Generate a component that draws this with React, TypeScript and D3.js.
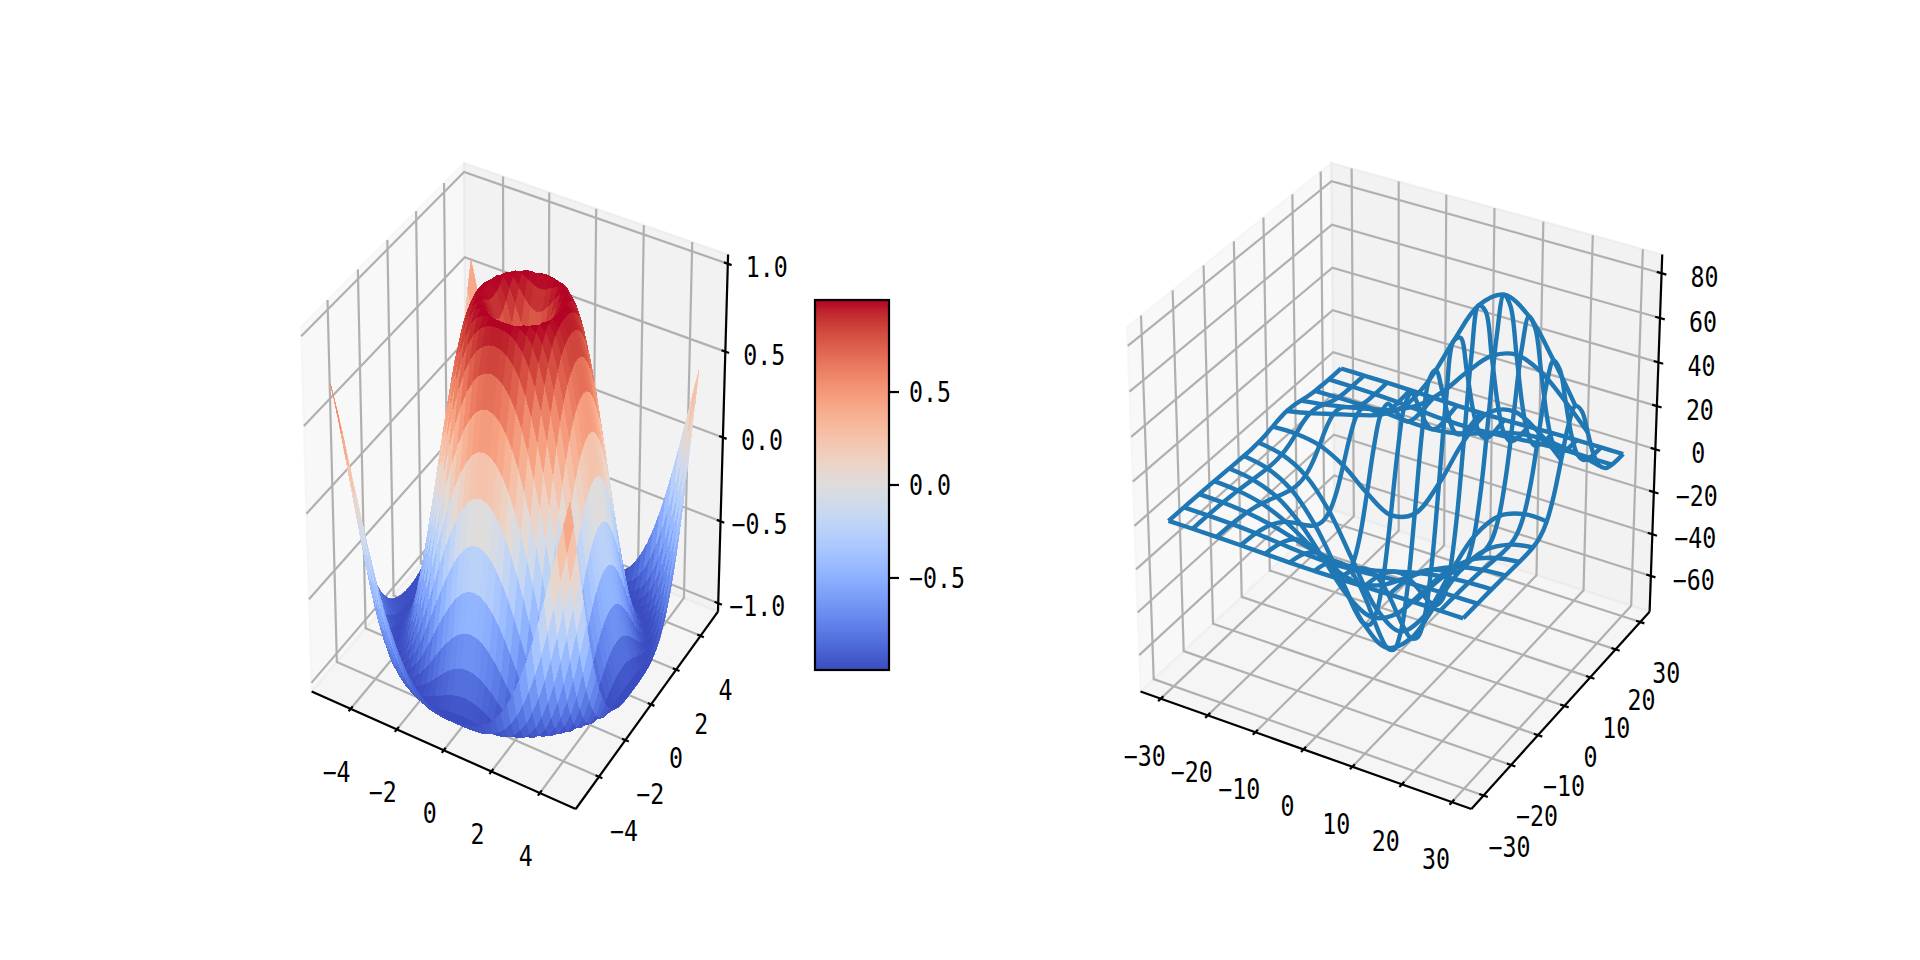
import React, { useEffect, useRef } from 'react';
import * as d3 from 'd3';

// --- left panel: sin(R) surface, one octant of the 0.25 grid, row = larger |index|, col = smaller |index|
const surfaceRows: number[][] = [
  [0],
  [0.247, 0.346],
  [0.479, 0.53, 0.65],
  [0.682, 0.711, 0.784, 0.873],
  [0.841, 0.858, 0.899, 0.949, 0.988],
  [0.949, 0.957, 0.975, 0.994, 1.0, 0.981],
  [0.997, 0.999, 1.0, 0.994, 0.973, 0.928, 0.853],
  [0.984, 0.981, 0.969, 0.945, 0.903, 0.837, 0.742, 0.619],
  [0.909, 0.903, 0.882, 0.845, 0.787, 0.705, 0.598, 0.465, 0.308],
  [0.778, 0.769, 0.742, 0.696, 0.629, 0.539, 0.424, 0.287, 0.131, -0.04],
  [0.598, 0.588, 0.558, 0.507, 0.434, 0.34, 0.224, 0.09, -0.06, -0.22, -0.384],
  [0.382, 0.372, 0.34, 0.287, 0.214, 0.12, 0.009, -0.118, -0.256, -0.4, -0.544, -0.68],
  [0.141, 0.131, 0.1, 0.049, -0.021, -0.108, -0.211, -0.325, -0.447, -0.572, -0.692, -0.8, -0.892],
  [-0.108, -0.118, -0.146, -0.193, -0.256, -0.334, -0.424, -0.523, -0.625, -0.725, -0.818, -0.899, -0.958, -0.993],
  [-0.351, -0.359, -0.384, -0.424, -0.478, -0.544, -0.619, -0.698, -0.777, -0.852, -0.917, -0.966, -0.995, -0.998, -0.972],
  [-0.572, -0.579, -0.599, -0.632, -0.675, -0.725, -0.782, -0.84, -0.895, -0.943, -0.979, -0.998, -0.996, -0.97, -0.914, -0.829],
  [-0.757, -0.762, -0.777, -0.8, -0.831, -0.868, -0.905, -0.941, -0.972, -0.992, -1.0, -0.99, -0.959, -0.905, -0.824, -0.718, -0.588],
  [-0.895, -0.899, -0.908, -0.922, -0.941, -0.96, -0.979, -0.993, -1.0, -0.995, -0.976, -0.939, -0.884, -0.803, -0.701, -0.579, -0.433, -0.27],
  [-0.978, -0.979, -0.982, -0.989, -0.995, -0.999, -0.999, -0.993, -0.978, -0.949, -0.906, -0.847, -0.766, -0.669, -0.549, -0.412, -0.26, -0.093, 0.081],
  [-0.999, -0.999, -0.998, -0.995, -0.99, -0.98, -0.964, -0.939, -0.905, -0.857, -0.793, -0.714, -0.617, -0.504, -0.374, -0.229, -0.073, 0.09, 0.257, 0.421],
  [-0.959, -0.957, -0.951, -0.941, -0.926, -0.905, -0.875, -0.833, -0.783, -0.718, -0.637, -0.544, -0.437, -0.316, -0.178, -0.033, 0.119, 0.274, 0.43, 0.578, 0.706],
];
const surfaceIndex = d3.range(-20, 20);
const surfaceStep = 0.25;

const leftTicksXY = [-4, -2, 0, 2, 4];
const leftTicksZ = [-1, -0.5, 0, 0.5, 1];
const colorbarTicks = [-0.5, 0, 0.5];

// --- right panel: wireframe values, one row per x, one column per y
const wireX = [-30, -25, -20, -15, -10, -5, 0, 5, 10, 15, 20, 25, 29.5];
const wireY = [-30, -27.5, -25, -22.5, -20, -17.5, -15, -12.5, -10, -7.5, -5, -2.5, 0, 2.5, 5, 7.5, 10, 12.5, 15, 17.5, 20, 22.5, 25, 27.5, 29.5];
const wireZ: number[][] = [
  [0, -0.02, -0.04, -0.07, -0.12, -0.19, -0.29, -0.4, -0.54, -0.66, -0.75, -0.72, -0.47, 0.13, 1.06, 2.01, 2.49, 2.27, 1.55, 0.79, 0.29, 0.06, 0, -0.01, -0.01],
  [-0.04, -0.08, -0.15, -0.28, -0.47, -0.75, -1.13, -1.6, -2.12, -2.62, -3.0, -3.08, -2.55, -1.12, 1.15, 3.52, 4.85, 4.55, 3.1, 1.51, 0.47, 0.03, -0.07, -0.07, -0.04],
  [-0.12, -0.25, -0.47, -0.86, -1.46, -2.33, -3.5, -4.93, -6.53, -8.1, -9.34, -9.81, -8.83, -5.78, -0.79, 4.54, 7.83, 7.74, 5.21, 2.33, 0.48, -0.23, -0.31, -0.22, -0.13],
  [-0.29, -0.59, -1.13, -2.06, -3.5, -5.59, -8.39, -11.83, -15.66, -19.44, -22.51, -23.88, -22.26, -16.45, -6.75, 3.85, 10.79, 11.52, 7.66, 3.0, 0.08, -0.9, -0.84, -0.53, -0.32],
  [-0.54, -1.1, -2.12, -3.84, -6.53, -10.44, -15.67, -22.1, -29.26, -36.34, -42.12, -44.87, -42.37, -32.62, -16.14, 2.07, 14.34, 16.4, 10.79, 3.72, -0.63, -1.93, -1.64, -1.0, -0.6],
  [-0.78, -1.6, -3.08, -5.59, -9.5, -15.19, -22.8, -32.15, -42.57, -52.87, -61.27, -65.24, -61.52, -47.18, -22.95, 3.78, 21.76, 24.64, 16.23, 5.7, -0.79, -2.76, -2.37, -1.46, -0.88],
  [-0.88, -1.81, -3.49, -6.33, -10.77, -17.21, -25.84, -36.43, -48.24, -59.88, -69.29, -73.4, -68.09, -49.55, -18.71, 14.9, 36.68, 38.54, 25.68, 10.37, 0.72, -2.6, -2.55, -1.62, -0.99],
  [-0.78, -1.6, -3.08, -5.59, -9.5, -15.19, -22.8, -32.15, -42.56, -52.79, -60.87, -63.66, -56.65, -35.48, -1.11, 35.57, 57.78, 56.43, 38.07, 17.4, 4.08, -1.18, -1.97, -1.38, -0.86],
  [-0.54, -1.1, -2.12, -3.84, -6.53, -10.44, -15.67, -22.1, -29.25, -36.2, -41.42, -42.12, -33.91, -12.33, 21.75, 57.2, 76.82, 71.53, 48.68, 24.01, 7.83, 0.82, -0.94, -0.87, -0.57],
  [-0.29, -0.59, -1.13, -2.06, -3.5, -5.59, -8.39, -11.83, -15.64, -19.28, -21.69, -20.63, -12.26, 7.55, 38.07, 69.08, 84.7, 76.75, 52.48, 27.0, 10.08, 2.35, -0.02, -0.37, -0.28],
  [-0.12, -0.25, -0.47, -0.86, -1.46, -2.33, -3.5, -4.93, -6.5, -7.94, -8.56, -6.71, 0.72, 17.14, 42.02, 66.84, 78.42, 70.04, 48.02, 25.25, 10.03, 2.87, 0.47, -0.06, -0.1],
  [-0.04, -0.08, -0.15, -0.28, -0.47, -0.75, -1.13, -1.6, -2.1, -2.49, -2.37, -0.55, 5.22, 17.51, 35.95, 54.16, 62.23, 55.19, 37.9, 20.14, 8.24, 2.55, 0.56, 0.06, -0.02],
  [-0.01, -0.02, -0.05, -0.08, -0.14, -0.22, -0.33, -0.47, -0.61, -0.68, -0.4, 1.0, 5.14, 13.8, 26.73, 39.44, 44.96, 39.75, 27.31, 14.58, 6.03, 1.92, 0.46, 0.08, 0.01],
];
const rightTicksXY = [-30, -20, -10, 0, 10, 20, 30];
const rightTicksZ = [-60, -40, -20, 0, 20, 40, 60, 80];

// matplotlib coolwarm segment data
const coolwarmStops = d3.range(33).map(i => i / 32);
const coolwarmR = [0.2298057, 0.26623388, 0.30386891, 0.342804478, 0.38301334, 0.424369608, 0.46666708, 0.509635204, 0.552953156, 0.596262162, 0.639176211, 0.681291281, 0.722193294, 0.761464949, 0.798691636, 0.833466556, 0.865395197, 0.897787179, 0.924127593, 0.944468518, 0.958852946, 0.96732803, 0.969954137, 0.966811177, 0.958003065, 0.943660866, 0.923944917, 0.89904617, 0.869186849, 0.834620542, 0.795631745, 0.752534934, 0.705673158];
const coolwarmG = [0.298717966, 0.353094838, 0.406535296, 0.458757618, 0.50941904, 0.558148092, 0.604562568, 0.648280772, 0.688929332, 0.726149107, 0.759599947, 0.788964712, 0.813952739, 0.834302879, 0.849786142, 0.860207984, 0.86541021, 0.848937047, 0.827384882, 0.800927443, 0.769767752, 0.734132809, 0.694266682, 0.650421156, 0.602842431, 0.551750968, 0.49730856, 0.439559467, 0.378313092, 0.312874446, 0.24128379, 0.157246067, 0.01555616];
const coolwarmB = [0.753683153, 0.801466763, 0.84495867, 0.883725899, 0.917387822, 0.945619588, 0.968154911, 0.98478814, 0.995375608, 0.999836203, 0.998151185, 0.990363227, 0.976574709, 0.956945269, 0.931688648, 0.901068838, 0.865395561, 0.820880546, 0.774508472, 0.726736146, 0.678007945, 0.628751763, 0.579375448, 0.530263762, 0.481775914, 0.434243684, 0.387970225, 0.343229596, 0.300267182, 0.259301199, 0.220525627, 0.184115123, 0.150232812];

const coolwarm = d3.scaleLinear<string>()
  .domain(coolwarmStops)
  .range(coolwarmStops.map((_, i) => d3.rgb(coolwarmR[i] * 255, coolwarmG[i] * 255, coolwarmB[i] * 255).toString()));

const GRID = '#b0b0b0';
const LINE = 2.2;

type Vec = [number, number, number];

interface Panel {
  xRange: [number, number]; // screen range of the 2D axes
  xPane: [number, number];
  yPane: [number, number];
  zPane: [number, number];
  xTicks: number[];
  yTicks: number[];
  zTicks: number[];
  xyFormat: (v: number) => string;
  zFormat: (v: number) => string;
  xOffset: [number, number];
  yOffset: [number, number];
  zOffset: [number, number];
}

// view_init(elev=30, azim=-60), dist=10
const elev = Math.PI / 6;
const azim = -Math.PI / 3;
const viewW: Vec = [Math.cos(elev) * Math.cos(azim), Math.cos(elev) * Math.sin(azim), Math.sin(elev)];
const viewU: Vec = [-Math.sin(azim), Math.cos(azim), 0];
const viewV: Vec = [-Math.sin(elev) * Math.cos(azim), -Math.sin(elev) * Math.sin(azim), Math.cos(elev)];
const dot = (a: Vec, b: Vec) => a[0] * b[0] + a[1] * b[1] + a[2] * b[2];

// d3.format already writes the long minus sign
const intFormat = d3.format('d');
const oneDecimal = d3.format('.1f');

const label = (g: any, x: number, y: number, text: string, anchor = 'middle') => {
  g.append('text')
    .attr('x', x)
    .attr('y', y + 10)
    .attr('text-anchor', anchor)
    .attr('font-family', '"DejaVu Sans Mono"')
    .attr('font-size', 28.5)
    .attr('textLength', text.length * 14)
    .attr('lengthAdjust', 'spacingAndGlyphs')
    .attr('fill', 'black')
    .text(text);
};

const makeFrame = (svg: any, p: Panel) => {
  const sx = d3.scaleLinear().domain([-0.095, 0.09]).range(p.xRange);
  const sy = d3.scaleLinear().domain([-0.095, 0.09]).range([870.7, 100.1]);
  const wx = d3.scaleLinear().domain(p.xPane).range([0, 1]);
  const wy = d3.scaleLinear().domain(p.yPane).range([0, 1]);
  const wz = d3.scaleLinear().domain(p.zPane).range([0, 1]);

  // unit cube coordinates to screen
  const unit = (a: number, b: number, c: number): [number, number] => {
    const d: Vec = [a - 0.5, b - 0.5, c - 0.5];
    const den = 10 - dot(d, viewW);
    return [sx(dot(d, viewU) / den), sy(dot(d, viewV) / den)];
  };
  const depth = (a: number, b: number, c: number) => dot([a - 0.5, b - 0.5, c - 0.5], viewW);
  const line = d3.line();

  const g = svg.append('g');

  // panes
  const panes: [[number, number][], string][] = [
    [[unit(0, 0, 0), unit(0, 1, 0), unit(0, 1, 1), unit(0, 0, 1)], 'rgba(242,242,242,0.5)'],
    [[unit(0, 1, 0), unit(1, 1, 0), unit(1, 1, 1), unit(0, 1, 1)], 'rgba(230,230,230,0.5)'],
    [[unit(0, 0, 0), unit(1, 0, 0), unit(1, 1, 0), unit(0, 1, 0)], 'rgba(236,236,236,0.5)'],
  ];
  panes.forEach(([pts, c]) => {
    g.append('path').attr('d', line(pts) + 'Z').attr('fill', c).attr('stroke', c).attr('stroke-width', LINE);
  });

  // gridlines
  const grid = (pts: [number, number][]) => {
    g.append('path').attr('d', line(pts)).attr('fill', 'none').attr('stroke', GRID).attr('stroke-width', LINE);
  };
  p.xTicks.forEach(t => grid([unit(wx(t), 0, 0), unit(wx(t), 1, 0), unit(wx(t), 1, 1)]));
  p.yTicks.forEach(t => grid([unit(0, wy(t), 1), unit(0, wy(t), 0), unit(1, wy(t), 0)]));
  p.zTicks.forEach(t => grid([unit(0, 0, wz(t)), unit(0, 1, wz(t)), unit(1, 1, wz(t))]));

  // axis lines
  const black = (pts: [number, number][]) => {
    g.append('path').attr('d', line(pts)).attr('fill', 'none').attr('stroke', 'black').attr('stroke-width', LINE);
  };
  black([unit(0, 0, 0), unit(1, 0, 0)]);
  black([unit(1, 0, 0), unit(1, 1, 0)]);
  black([unit(1, 1, 0), unit(1, 1, 1)]);

  // ticks and labels
  p.xTicks.forEach(t => {
    black([unit(wx(t), -0.0125, 0), unit(wx(t), 0.0125, 0)]);
    const [a, b] = unit(wx(t), 0, 0);
    label(g, a + p.xOffset[0], b + p.xOffset[1], p.xyFormat(t));
  });
  p.yTicks.forEach(t => {
    black([unit(0.9875, wy(t), 0), unit(1.0125, wy(t), 0)]);
    const [a, b] = unit(1, wy(t), 0);
    label(g, a + p.yOffset[0], b + p.yOffset[1], p.xyFormat(t));
  });
  p.zTicks.forEach(t => {
    black([unit(0.986, 1, wz(t)), unit(1.014, 1, wz(t))]);
    const [a, b] = unit(1, 1, wz(t));
    label(g, a + p.zOffset[0], b + p.zOffset[1], p.zFormat(t));
  });

  return { unit, depth, wx, wy, wz, g };
};

const App = () => {
  const chartRef = useRef<SVGSVGElement>(null);

  useEffect(() => {
    const svg = d3.select(chartRef.current);
    svg.selectAll('*').remove();

    // ---- left: surface
    const left = makeFrame(svg, {
      xRange: [228.4, 792.3],
      xPane: [-5.711, 5.461],
      yPane: [-5.711, 5.461],
      zPane: [-1.052, 1.052],
      xTicks: leftTicksXY,
      yTicks: leftTicksXY,
      zTicks: leftTicksZ,
      xyFormat: intFormat,
      zFormat: oneDecimal,
      xOffset: [-14, 63],
      yOffset: [25, 54],
      zOffset: [39, 3],
    });

    const surfaceAt = (i: number, j: number) => {
      const a = Math.abs(i);
      const b = Math.abs(j);
      return surfaceRows[Math.max(a, b)][Math.min(a, b)];
    };
    const norm = d3.scaleLinear().domain([-0.995, 0.995]).range([0, 1]).clamp(true);
    const colorAt = (v: number) => coolwarm(Math.floor(norm(v) * 255.999) / 255);
    const line = d3.line();

    const cells: { depth: number; d: string; fill: string }[] = [];
    surfaceIndex.slice(0, -1).forEach(i => {
      surfaceIndex.slice(0, -1).forEach(j => {
        const corners: [number, number][] = [[i, j], [i + 1, j], [i + 1, j + 1], [i, j + 1]];
        const world = corners.map(([a, b]) => [
          left.wx(a * surfaceStep),
          left.wy(b * surfaceStep),
          left.wz(surfaceAt(a, b)),
        ] as Vec);
        cells.push({
          depth: d3.mean(world, w => left.depth(w[0], w[1], w[2])) as number,
          d: line(world.map(w => left.unit(w[0], w[1], w[2]))) + 'Z',
          fill: colorAt(d3.mean(corners, ([a, b]) => surfaceAt(a, b)) as number),
        });
      });
    });
    cells.sort((a, b) => a.depth - b.depth);

    // thin same colour stroke keeps the sliver cells at the corners from dropping out
    svg.append('g')
      .attr('shape-rendering', 'crispEdges')
      .attr('stroke-width', 0.8)
      .selectAll('path')
      .data(cells)
      .join('path')
      .attr('d', d => d.d)
      .attr('fill', d => d.fill)
      .attr('stroke', d => d.fill);

    // ---- colorbar
    const barY = d3.scaleLinear().domain([-0.995, 0.995]).range([670, 300]);
    const lut = d3.range(256);
    const bar = svg.append('g');
    bar.append('g')
      .attr('shape-rendering', 'crispEdges')
      .selectAll('rect')
      .data(lut)
      .join('rect')
      .attr('x', 815)
      .attr('width', 74)
      .attr('y', i => barY(-0.995 + (1.99 * (i + 1)) / 256))
      .attr('height', 370 / 256 + 0.6)
      .attr('fill', i => coolwarm(i / 255));
    bar.append('rect')
      .attr('x', 815)
      .attr('y', 300)
      .attr('width', 74)
      .attr('height', 370)
      .attr('fill', 'none')
      .attr('stroke', 'black')
      .attr('stroke-width', LINE);
    colorbarTicks.forEach(t => {
      bar.append('line')
        .attr('x1', 889)
        .attr('x2', 899)
        .attr('y1', barY(t))
        .attr('y2', barY(t))
        .attr('stroke', 'black')
        .attr('stroke-width', LINE);
      label(bar, 909, barY(t), oneDecimal(t), 'start');
    });

    // ---- right: wireframe
    const right = makeFrame(svg, {
      xRange: [1036.2, 1742.7],
      xPane: [-34.339, 33.839],
      yPane: [-34.339, 33.839],
      zPane: [-77.3, 88.3],
      xTicks: rightTicksXY,
      yTicks: rightTicksXY,
      zTicks: rightTicksZ,
      xyFormat: intFormat,
      zFormat: intFormat,
      xOffset: [-16, 57],
      yOffset: [26, 51],
      zOffset: [43, 4],
    });

    const curve = d3.line().curve(d3.curveCatmullRom.alpha(0.5));
    const wire = svg.append('g')
      .attr('fill', 'none')
      .attr('stroke', '#1f77b4')
      .attr('stroke-width', 4.4);
    const wirePoint = (r: number, c: number) =>
      right.unit(right.wx(wireX[r]), right.wy(wireY[c]), right.wz(wireZ[r][c]));

    // lines of constant x, all columns
    wireX.forEach((_, r) => {
      wire.append('path').attr('d', curve(wireY.map((__, c) => wirePoint(r, c))));
    });
    // lines of constant y, every second column
    wireY.forEach((_, c) => {
      if (c % 2 === 0) {
        wire.append('path').attr('d', curve(wireX.map((__, r) => wirePoint(r, c))));
      }
    });
  }, []);

  return (
    <svg
      ref={chartRef}
      width={1920}
      height={960}
      style={{ position: 'absolute', left: 0, top: 0, background: 'white' }}
    />
  );
};

export default App;
